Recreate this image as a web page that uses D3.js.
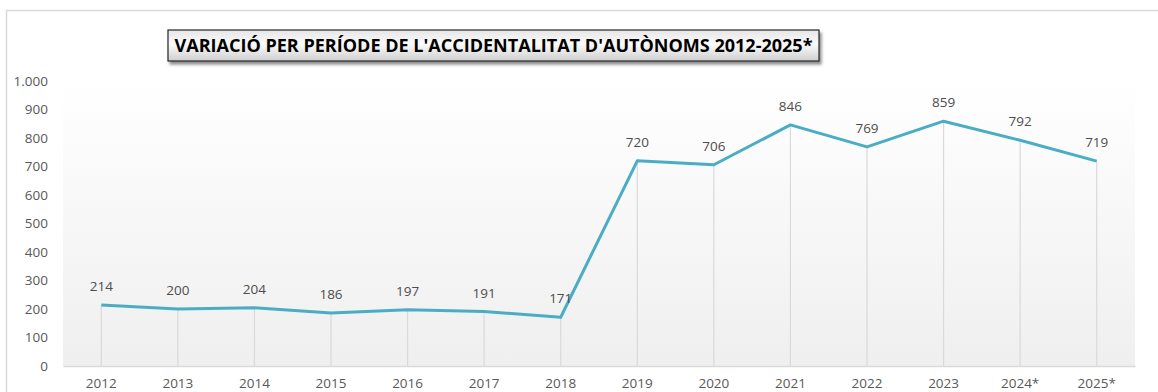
<!DOCTYPE html>
<html>
<head>
<meta charset="utf-8">
<script src="https://cdn.jsdelivr.net/npm/d3@7"></script>
<style>
  html, body { margin: 0; padding: 0; background: #ffffff; }
  svg { display: block; }
  text { font-family: "Open Sans", "Noto Sans", sans-serif; }
</style>
</head>
<body>
<svg id="chart" width="1158" height="392"></svg>
<script>
// Accidents per period among self-employed workers
const years = ["2012", "2013", "2014", "2015", "2016", "2017", "2018", "2019", "2020", "2021", "2022", "2023", "2024*", "2025*"];
const accidents = [214, 200, 204, 186, 197, 191, 171, 720, 706, 846, 769, 859, 792, 719];
const yTicks = [0, 100, 200, 300, 400, 500, 600, 700, 800, 900, 1000];
const titleText = "VARIACIÓ PER PERÍODE DE L'ACCIDENTALITAT D'AUTÒNOMS 2012-2025*";

const W = 1158, H = 392;
const plot = { left: 63, right: 1135, top: 81, bottom: 366 };
const labelFont = "13.5px";

const svg = d3.select("#chart");
const defs = svg.append("defs");

// Plot area background: white fading to light gray
const bg = defs.append("linearGradient").attr("id", "plotBg")
  .attr("x1", 0).attr("y1", 0).attr("x2", 0).attr("y2", 1);
bg.append("stop").attr("offset", "0%").attr("stop-color", "#ffffff");
bg.append("stop").attr("offset", "100%").attr("stop-color", "#efefef");

// Title box gradient
const tg = defs.append("linearGradient").attr("id", "titleBg")
  .attr("x1", 0).attr("y1", 0).attr("x2", 0).attr("y2", 1);
tg.append("stop").attr("offset", "0%").attr("stop-color", "#e6e6e6");
tg.append("stop").attr("offset", "45%").attr("stop-color", "#fbfbfb");
tg.append("stop").attr("offset", "100%").attr("stop-color", "#cfcfcf");

const shadow = defs.append("filter").attr("id", "shadow")
  .attr("x", "-5%").attr("y", "-30%").attr("width", "110%").attr("height", "170%");
shadow.append("feDropShadow").attr("dx", 2).attr("dy", 3).attr("stdDeviation", 1.5)
  .attr("flood-color", "#000").attr("flood-opacity", 0.45);

// Chart frame
svg.append("path")
  .attr("d", `M6.5,${H} L6.5,10.5 L${W},10.5`)
  .attr("fill", "none").attr("stroke", "#d9d9d9").attr("stroke-width", 1.5);

const x = d3.scaleBand().domain(years).range([plot.left, plot.right]).padding(0);
const y = d3.scaleLinear().domain([0, 1000]).range([plot.bottom, plot.top]);
const cx = d => x(d) + x.bandwidth() / 2;

svg.append("rect")
  .attr("x", plot.left).attr("y", plot.top)
  .attr("width", plot.right - plot.left).attr("height", plot.bottom - plot.top)
  .attr("fill", "url(#plotBg)");

// Y axis labels
const yAxis = d3.axisLeft(y).tickValues(yTicks).tickSize(0).tickPadding(15)
  .tickFormat(d => d3.format(",")(d).replace(/,/g, "."));
const gy = svg.append("g").attr("transform", `translate(${plot.left},0)`).call(yAxis);
gy.select(".domain").remove();
gy.selectAll("text").attr("fill", "#595959").style("font-size", labelFont)
  .style("font-family", "'Open Sans', 'Noto Sans', sans-serif");

// X axis
const xAxis = d3.axisBottom(x).tickSize(0).tickPadding(12);
const gx = svg.append("g").attr("transform", `translate(0,${plot.bottom})`).call(xAxis);
gx.select(".domain").attr("stroke", "#d9d9d9").attr("stroke-width", 1.5);
gx.selectAll("text").attr("fill", "#595959").style("font-size", labelFont)
  .style("font-family", "'Open Sans', 'Noto Sans', sans-serif");

// Drop lines from each point to the axis
svg.append("g").selectAll("line").data(years).join("line")
  .attr("x1", d => cx(d)).attr("x2", d => cx(d))
  .attr("y1", (d, i) => y(accidents[i])).attr("y2", plot.bottom)
  .attr("stroke", "#d9d9d9").attr("stroke-width", 1.2);

// Series line
const line = d3.line().x((d, i) => cx(years[i])).y(d => y(d));
svg.append("path").datum(accidents)
  .attr("d", line)
  .attr("fill", "none").attr("stroke", "#4bacc6").attr("stroke-width", 3)
  .attr("stroke-linejoin", "round");

// Data labels
svg.append("g").selectAll("text").data(accidents).join("text")
  .attr("x", (d, i) => cx(years[i]))
  .attr("y", d => y(d) - 14)
  .attr("text-anchor", "middle")
  .attr("fill", "#4d4d4d").style("font-size", labelFont)
  .text(d => d);

// Title box
const tb = { x: 168, y: 30, w: 651, h: 31 };
svg.append("rect")
  .attr("x", tb.x).attr("y", tb.y).attr("width", tb.w).attr("height", tb.h)
  .attr("fill", "url(#titleBg)").attr("stroke", "#262626").attr("stroke-width", 1.2)
  .attr("filter", "url(#shadow)");
svg.append("text")
  .attr("x", tb.x + tb.w / 2).attr("y", tb.y + tb.h / 2 + 6)
  .attr("text-anchor", "middle")
  .attr("textLength", 638).attr("lengthAdjust", "spacingAndGlyphs")
  .style("font-family", "'Liberation Sans Narrow', 'Open Sans', sans-serif")
  .style("font-weight", "bold").style("font-size", "18px")
  .attr("fill", "#000")
  .text(titleText);
</script>
</body>
</html>
